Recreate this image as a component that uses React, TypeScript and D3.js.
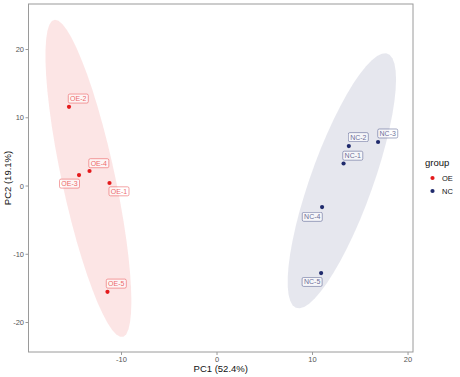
import React from "react";
import * as d3 from "d3";

const samples = ["OE-1", "OE-2", "OE-3", "OE-4", "OE-5", "NC-1", "NC-2", "NC-3", "NC-4", "NC-5"];
const groupOf = ["OE", "OE", "OE", "OE", "OE", "NC", "NC", "NC", "NC", "NC"];
const pc1 = [-11.26, -15.5, -14.45, -13.35, -11.47, 13.25, 13.8, 16.86, 11.0, 10.9];
const pc2 = [0.44, 11.6, 1.6, 2.2, -15.5, 3.3, 5.86, 6.45, -3.08, -12.75];
const groups = ["OE", "NC"];
const groupColors = ["#E41A1C", "#1F2A6C"];
const xTicks = [-10, 0, 10, 20];
const yTicks = [-20, -10, 0, 10, 20];

// label offsets (layout, px) mimicking ggrepel placement
const labelOffsets: Record<string, [number, number]> = {
  "OE-1": [9.5, 8.3], "OE-2": [9.3, -8.3], "OE-3": [-9.5, 8.5], "OE-4": [9.3, -7.8], "OE-5": [8.8, -8.2],
  "NC-1": [9.2, -7.8], "NC-2": [9.5, -8.9], "NC-3": [9.7, -8.5], "NC-4": [-9.8, 9.8], "NC-5": [-9, 8.9],
};

function covTrob(pts: number[][], nu = 5, maxit = 25, tol = 0.01) {
  const n = pts.length, p = 2;
  let loc = [d3.mean(pts, d => d[0])!, d3.mean(pts, d => d[1])!];
  let w = pts.map(() => 1);
  let X = pts.map(d => [d[0] - loc[0], d[1] - loc[1]]);
  for (let iter = 0; iter < maxit; iter++) {
    const w0 = w.slice();
    X = pts.map(d => [d[0] - loc[0], d[1] - loc[1]]);
    const sw = d3.sum(w);
    let a = 0, b = 0, c = 0;
    X.forEach((x, i) => { a += w[i] * x[0] * x[0]; b += w[i] * x[0] * x[1]; c += w[i] * x[1] * x[1]; });
    a /= sw; b /= sw; c /= sw;
    const det = a * c - b * b;
    const Q = X.map(x => (c * x[0] * x[0] - 2 * b * x[0] * x[1] + a * x[1] * x[1]) / det);
    w = Q.map(q => (nu + p) / (nu + q));
    const s = d3.sum(w);
    loc = [d3.sum(pts, (d, i) => w[i] * d[0]) / s, d3.sum(pts, (d, i) => w[i] * d[1]) / s];
    if (w.every((v, i) => Math.abs(v - w0[i]) < tol)) break;
  }
  let a = 0, b = 0, c = 0;
  X.forEach((x, i) => { a += w[i] * x[0] * x[0]; b += w[i] * x[0] * x[1]; c += w[i] * x[1] * x[1]; });
  return { cov: [a / n, b / n, c / n], center: loc };
}

function ellipsePoints(pts: number[][], level = 0.9, segments = 51) {
  const { cov, center } = covTrob(pts);
  const dfd = pts.length - 1;
  const qf = (dfd / 2) * (Math.pow(1 - level, -2 / dfd) - 1);
  const radius = Math.sqrt(2 * qf);
  const r11 = Math.sqrt(cov[0]);
  const r12 = cov[1] / r11;
  const r22 = Math.sqrt(cov[2] - r12 * r12);
  const out: number[][] = [];
  for (let k = 0; k <= segments; k++) {
    const t = (k * 2 * Math.PI) / segments;
    const cs = Math.cos(t), sn = Math.sin(t);
    out.push([center[0] + radius * cs * r11, center[1] + radius * (cs * r12 + sn * r22)]);
  }
  return out;
}

export default function App() {
  const W = 460, H = 377;
  const L = 28.5, R = 413, T = 4, B = 352;
  const x = d3.scaleLinear().domain([-19.74, 20.52]).range([L, R]);
  const y = d3.scaleLinear().domain([-24.32, 26.67]).range([B, T]);
  const line = d3.line<number[]>().x(d => x(d[0])).y(d => y(d[1])).curve(d3.curveLinearClosed);
  const font = "Liberation Sans, Arial, sans-serif";

  return (
    <svg width={W} height={H} style={{ position: "absolute", left: 0, top: 0, background: "#fff" }} fontFamily={font}>
      <rect x={0} y={0} width={W} height={H} fill="#fff" />
      <defs>
        <clipPath id="panel"><rect x={L} y={T} width={R - L} height={B - T} /></clipPath>
      </defs>
      <g clipPath="url(#panel)">
        {groups.map((g, gi) => {
          const pts = samples.map((_, i) => [pc1[i], pc2[i]]).filter((_, i) => groupOf[i] === g);
          return <path key={g} d={line(ellipsePoints(pts))!} fill={groupColors[gi]} fillOpacity={0.115} stroke="none" />;
        })}
      </g>
      {samples.map((s, i) => {
        const col = groupColors[groups.indexOf(groupOf[i])];
        return <circle key={s} cx={x(pc1[i])} cy={y(pc2[i])} r={2.1} fill={col} />;
      })}
      {samples.map((s, i) => {
        const col = groupColors[groups.indexOf(groupOf[i])];
        const [dx, dy] = labelOffsets[s];
        const cx = x(pc1[i]) + dx, cy = y(pc2[i]) + dy;
        const w = 20, h = 9;
        return (
          <g key={s + "l"} opacity={0.65}>
            <rect x={cx - w / 2} y={cy - h / 2} width={w} height={h} rx={1.5} fill="#fff" stroke={col} strokeWidth={0.6} />
            <text x={cx} y={cy + 2.5} textAnchor="middle" fontSize={7} fill={col}>{s}</text>
          </g>
        );
      })}
      <rect x={L} y={T} width={R - L} height={B - T} fill="none" stroke="#9a9a9a" strokeWidth={1} />
      {xTicks.map(t => (
        <g key={"x" + t}>
          <line x1={x(t)} x2={x(t)} y1={B} y2={B + 3} stroke="#9a9a9a" />
          <text x={x(t)} y={B + 10} textAnchor="middle" fontSize={7.5} fill="#555">{t}</text>
        </g>
      ))}
      {yTicks.map(t => (
        <g key={"y" + t}>
          <line x1={L - 3} x2={L} y1={y(t)} y2={y(t)} stroke="#9a9a9a" />
          <text x={L - 4.5} y={y(t) + 2.7} textAnchor="end" fontSize={7.5} fill="#555">{t}</text>
        </g>
      ))}
      <text x={(L + R) / 2} y={372} textAnchor="middle" fontSize={9.5} fill="#111">PC1 (52.4%)</text>
      <text transform={`translate(10.5,${(T + B) / 2}) rotate(-90)`} textAnchor="middle" fontSize={9.5} fill="#111">PC2 (19.1%)</text>
      <text x={425} y={166} fontSize={9.5} fill="#111">group</text>
      {groups.map((g, gi) => (
        <g key={"lg" + g}>
          <circle cx={432.5} cy={178 + gi * 13} r={2.1} fill={groupColors[gi]} />
          <text x={442} y={180.7 + gi * 13} fontSize={7.5} fill="#111">{g}</text>
        </g>
      ))}
    </svg>
  );
}
